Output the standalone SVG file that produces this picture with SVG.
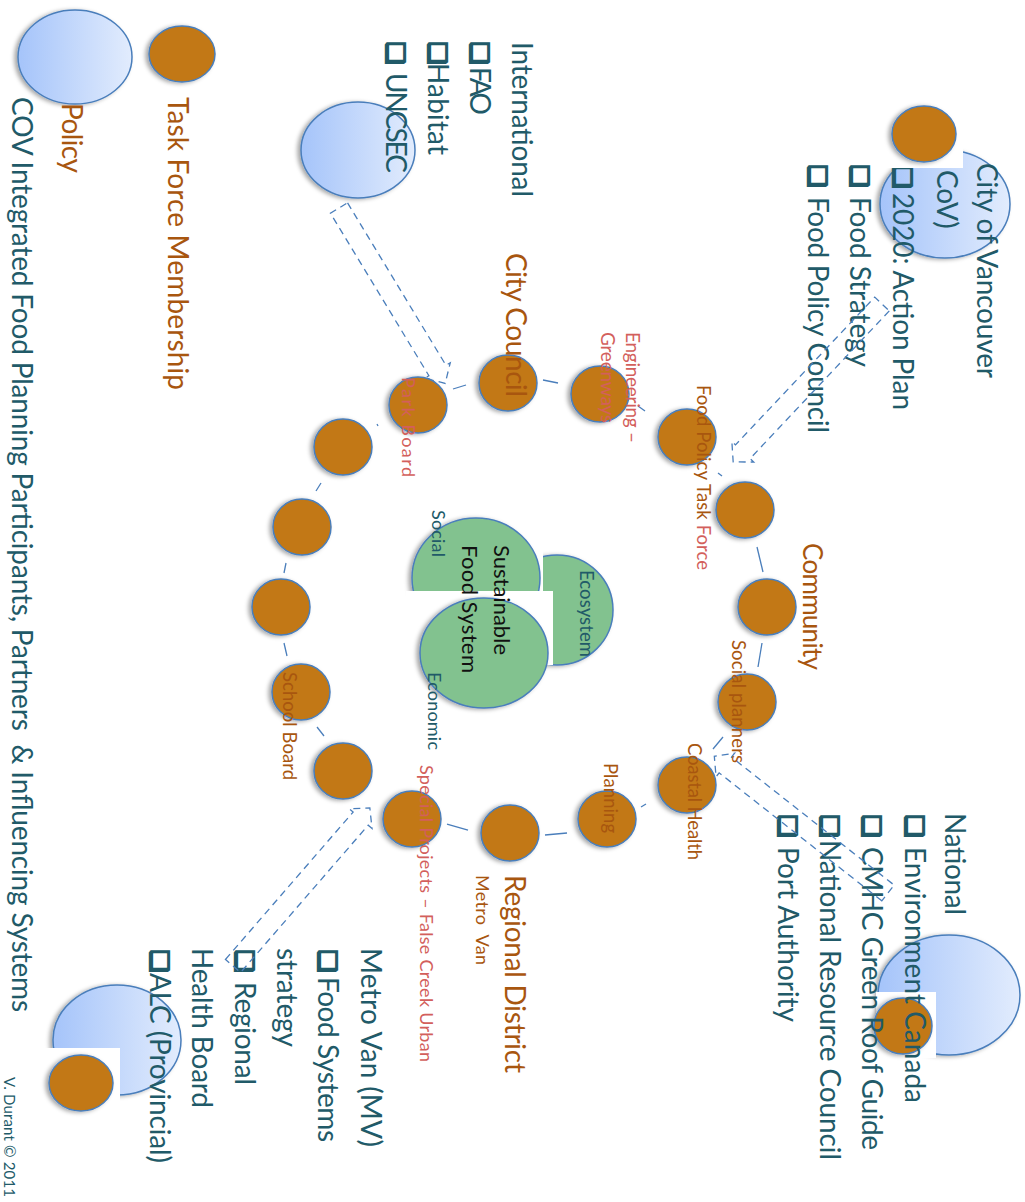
<svg xmlns="http://www.w3.org/2000/svg" width="1025" height="1202" viewBox="0 0 1025 1202">
<defs>
<style>
.t{font-family:Lato,'Open Sans','DejaVu Sans',sans-serif}
.teal{fill:#215a68}
.brown{fill:#a8560f}
.red{fill:#d35f5c}
.blk{fill:#111}
.cb{font-family:'DejaVu Sans',sans-serif;font-weight:bold;fill:#215a68;stroke:#215a68;stroke-width:2;stroke-linejoin:miter}
.orb{fill:#c27812;stroke:#4a7ebb;stroke-width:1.5;filter:url(#sh)}
.blue{fill:url(#bg);stroke:#4a7ebb;stroke-width:1.5;filter:url(#sh)}
.green{fill:#82c28f;stroke:#4a7ebb;stroke-width:1.5;filter:url(#sh)}
.link{stroke:#4a7ebb;stroke-width:1.3;fill:none}
.dash{stroke:#4a7ebb;stroke-width:1.3;fill:none;stroke-dasharray:7 5}
</style>
<linearGradient id="bg" x1="0" y1="0" x2="1" y2="0">
<stop offset="0" stop-color="#a5c4fa"/>
<stop offset="1" stop-color="#e2ecfd"/>
</linearGradient>
<filter id="sh" x="-20%" y="-20%" width="140%" height="140%">
<feDropShadow dx="-3" dy="1" stdDeviation="2" flood-color="#000" flood-opacity="0.35"/>
</filter>
</defs>

<!-- Legend -->
<g id="legend">
<ellipse class="blue" cx="75" cy="57" rx="57" ry="47"/>
<ellipse class="orb" cx="182" cy="54" rx="33" ry="28"/>
<text class="t brown" font-size="28" textLength="293" transform="translate(168,97) rotate(90)">Task Force Membership</text>
<text class="t brown" font-size="28" textLength="70" transform="translate(62,103) rotate(90)">Policy</text>
<text class="t teal" font-size="28" textLength="915" xml:space="preserve" transform="translate(12,97) rotate(90)">COV Integrated Food Planning Participants, Partners  &amp; Influencing Systems</text>
<text class="t teal" font-size="15" textLength="120" transform="translate(4,1077) rotate(90)">V. Durant © 2011</text>
</g>

<!-- International -->
<g id="international">
<ellipse class="blue" cx="358" cy="150" rx="57" ry="48"/>
<text class="t teal" font-size="28" textLength="155" transform="translate(512,42) rotate(90)">International</text>
<text class="cb" font-size="25" transform="translate(471,42) rotate(90)">❑</text>
<text class="t teal" font-size="28" textLength="48" transform="translate(470,67) rotate(90)">FAO</text>
<text class="cb" font-size="25" transform="translate(429,42) rotate(90)">❑</text>
<text class="t teal" font-size="28" textLength="92" transform="translate(428,63) rotate(90)">Habitat</text>
<text class="cb" font-size="25" transform="translate(387,42) rotate(90)">❑</text>
<text class="t teal" font-size="28" textLength="100" transform="translate(386,73) rotate(90)">UNCSEC</text>
</g>

<!-- City of Vancouver -->
<g id="cov">
<ellipse class="blue" cx="945" cy="204" rx="65" ry="54"/>
<text class="t teal" font-size="28" textLength="215" transform="translate(977,163) rotate(90)">City of Vancouver</text>
<text class="t teal" font-size="28" transform="translate(937,158) rotate(90)">(<tspan dx="5">CoV)</tspan></text>
<text class="cb" font-size="25" transform="translate(894,166) rotate(90)">❑</text>
<text class="t teal" font-size="28" textLength="217" transform="translate(893,193) rotate(90)">2020: Action Plan</text>
<text class="cb" font-size="25" transform="translate(851,165) rotate(90)">❑</text>
<text class="t teal" font-size="28" textLength="170" transform="translate(850,197) rotate(90)">Food Strategy</text>
<text class="cb" font-size="25" transform="translate(809,165) rotate(90)">❑</text>
<text class="t teal" font-size="28" textLength="236" transform="translate(808,197) rotate(90)">Food Policy Council</text>
<rect x="885" y="100" width="78" height="68" fill="#fff"/>
<ellipse class="orb" cx="924" cy="134" rx="32" ry="28"/>
</g>

<!-- National -->
<g id="national">
<ellipse class="blue" cx="949" cy="995" rx="71" ry="60"/>
<rect x="876" y="992" width="60" height="66" fill="#fff"/>
<ellipse class="orb" cx="903" cy="1026" rx="29" ry="28"/>
<text class="t teal" font-size="28" textLength="102" transform="translate(945,813) rotate(90)">National</text>
<text class="cb" font-size="25" transform="translate(906,815) rotate(90)">❑</text>
<text class="t teal" font-size="28" textLength="256" transform="translate(905,847) rotate(90)">Environment Canada</text>
<text class="cb" font-size="25" transform="translate(863,815) rotate(90)">❑</text>
<text class="t teal" font-size="28" textLength="303" transform="translate(862,847) rotate(90)">CMHC Green Roof Guide</text>
<text class="cb" font-size="25" transform="translate(821,815) rotate(90)">❑</text>
<text class="t teal" font-size="28" textLength="320" transform="translate(820,840) rotate(90)">National Resource Council</text>
<text class="cb" font-size="25" transform="translate(779,815) rotate(90)">❑</text>
<text class="t teal" font-size="28" textLength="175" transform="translate(778,847) rotate(90)">Port Authority</text>
</g>

<!-- Regional / Provincial -->
<g id="regional">
<ellipse class="blue" cx="117" cy="1040" rx="64" ry="55"/>
<rect x="45" y="1048" width="75" height="66" fill="#fff"/>
<ellipse class="orb" cx="81" cy="1083" rx="32" ry="28"/>
<text class="t teal" font-size="28" textLength="199" transform="translate(361,948) rotate(90)">Metro Van (MV)</text>
<text class="cb" font-size="25" transform="translate(319,950) rotate(90)">❑</text>
<text class="t teal" font-size="28" textLength="165" transform="translate(318,977) rotate(90)">Food Systems</text>
<text class="t teal" font-size="28" textLength="99" transform="translate(277,948) rotate(90)">strategy</text>
<text class="cb" font-size="25" transform="translate(236,950) rotate(90)">❑</text>
<text class="t teal" font-size="28" textLength="103" transform="translate(235,982) rotate(90)">Regional</text>
<text class="t teal" font-size="28" textLength="160" transform="translate(192,948) rotate(90)">Health Board</text>
<text class="cb" font-size="25" transform="translate(151,950) rotate(90)">❑</text>
<text class="t teal" font-size="28" textLength="190" transform="translate(150,973) rotate(90)">ALC (Provincial)</text>
</g>

<!-- Connectors -->
<g id="connectors">
<line class="link" x1="757" y1="547" x2="763" y2="572"/>
<line class="link" x1="762" y1="643" x2="758" y2="667"/>
<line class="link" x1="723" y1="737" x2="713" y2="749"/>
<line class="link" x1="646" y1="804" x2="641" y2="807"/>
<line class="link" x1="545" y1="835" x2="567" y2="833"/>
<line class="link" x1="447" y1="824" x2="468" y2="830"/>
<line class="link" x1="317" y1="727" x2="324" y2="736"/>
<line class="link" x1="284" y1="643" x2="287" y2="656"/>
<line class="link" x1="286" y1="563" x2="284" y2="573"/>
<line class="link" x1="321" y1="483" x2="316" y2="491"/>
<line class="link" x1="377" y1="424" x2="378" y2="426"/>
<line class="link" x1="453" y1="389" x2="466" y2="385"/>
<line class="link" x1="543" y1="380" x2="558" y2="383"/>
<line class="link" x1="638" y1="406" x2="645" y2="411"/>
<line class="link" x1="718" y1="473" x2="722" y2="476"/>
<polygon class="dash" transform="translate(339,208) rotate(58.8)" points="0,-10 190,-10 190,-15 205,0 190,15 190,10 0,10"/>
<polygon class="dash" transform="translate(882,304) rotate(133.3)" points="0,-10 203,-10 203,-15 217,0 203,15 203,10 0,10"/>
<polygon class="dash" transform="translate(888,893) rotate(218.2)" points="0,-10 207,-10 207,-15 221,0 207,15 207,10 0,10"/>
<polygon class="dash" transform="translate(233,966) rotate(-49.1)" points="0,-10 195,-10 195,-15 209,0 195,15 195,10 0,10"/>
</g>

<!-- Venn -->
<g id="venn">
<ellipse class="green" cx="557" cy="610" rx="56" ry="55"/>
<rect x="406" y="505" width="137" height="86" fill="#fff"/>
<ellipse class="green" cx="476" cy="578" rx="64" ry="60"/>
<rect x="406" y="591" width="147" height="74" fill="#fff"/>
<ellipse class="green" cx="484" cy="653" rx="64" ry="55"/>
<text class="t blk" font-size="22" textLength="110" transform="translate(494,545) rotate(90)">Sustainable</text>
<text class="t blk" font-size="22" textLength="128" transform="translate(462,545) rotate(90)">Food System</text>
<text class="t teal" font-size="18" textLength="47" transform="translate(432,510) rotate(90)">Social</text>
<text class="t teal" font-size="18.5" textLength="87" transform="translate(580,570) rotate(90)">Ecosystem</text>
<text class="t teal" font-size="18" textLength="78" transform="translate(428,672) rotate(90)">Economic</text>
</g>

<!-- Ring nodes -->
<g id="n1"><ellipse class="orb" cx="687" cy="437" rx="29" ry="28"/></g>
<g id="n2"><ellipse class="orb" cx="600" cy="394" rx="29" ry="28"/></g>
<g id="n3"><ellipse class="orb" cx="508" cy="383" rx="29" ry="28"/></g>
<g id="n4"><ellipse class="orb" cx="418" cy="405" rx="29" ry="28"/></g>
<g id="n5"><ellipse class="orb" cx="343" cy="447" rx="29" ry="28"/></g>
<g id="n6"><ellipse class="orb" cx="302" cy="527" rx="29" ry="28"/></g>
<g id="n7"><ellipse class="orb" cx="281" cy="607" rx="29" ry="28"/></g>
<g id="n8"><ellipse class="orb" cx="301" cy="692" rx="29" ry="28"/></g>
<g id="n9"><ellipse class="orb" cx="343" cy="771" rx="29" ry="28"/></g>
<g id="n10"><ellipse class="orb" cx="412" cy="819" rx="29" ry="28"/></g>
<g id="n11"><ellipse class="orb" cx="510" cy="833" rx="29" ry="28"/></g>
<g id="n12"><ellipse class="orb" cx="607" cy="819" rx="29" ry="28"/></g>
<g id="n13"><ellipse class="orb" cx="687" cy="785" rx="29" ry="28"/></g>
<g id="n14"><ellipse class="orb" cx="747" cy="702" rx="29" ry="28"/></g>
<g id="n15"><ellipse class="orb" cx="767" cy="607" rx="29" ry="28"/></g>
<g id="n16"><ellipse class="orb" cx="745" cy="510" rx="29" ry="28"/></g>

<!-- Ring labels -->
<g id="labels">
<text class="t brown" font-size="28" textLength="144" transform="translate(506,253) rotate(90)">City Council</text>
<text class="t red" font-size="19" textLength="111" transform="translate(626,332) rotate(90)">Engineering –</text>
<text class="t red" font-size="19" textLength="91" transform="translate(601,332) rotate(90)">Greenways</text>
<text class="t brown" font-size="18.5" textLength="185" transform="translate(697,385) rotate(90)">Food Policy Task <tspan class="red">Force</tspan></text>
<text class="t brown" font-size="26" textLength="127" transform="translate(803,543) rotate(90)">Community</text>
<text class="t brown" font-size="18.5" textLength="123" transform="translate(732,640) rotate(90)">Social planners</text>
<text class="t brown" font-size="18.5" textLength="117" transform="translate(688,743) rotate(90)">Coastal Health</text>
<text class="t brown" font-size="18.5" textLength="70" transform="translate(604,763) rotate(90)">Planning</text>
<text class="t brown" font-size="28" textLength="198" transform="translate(505,875) rotate(90)">Regional District</text>
<text class="t brown" font-size="18" textLength="90" xml:space="preserve" transform="translate(476,875) rotate(90)">Metro  Van</text>
<text class="t red" font-size="18" textLength="297" transform="translate(420,765) rotate(90)">Special Projects – False Creek Urban</text>
<text class="t red" font-size="18" textLength="100" transform="translate(402,377) rotate(90)">Park Board</text>
<text class="t brown" font-size="18.5" textLength="108" transform="translate(283,672) rotate(90)">School Board</text>
</g>
</svg>
